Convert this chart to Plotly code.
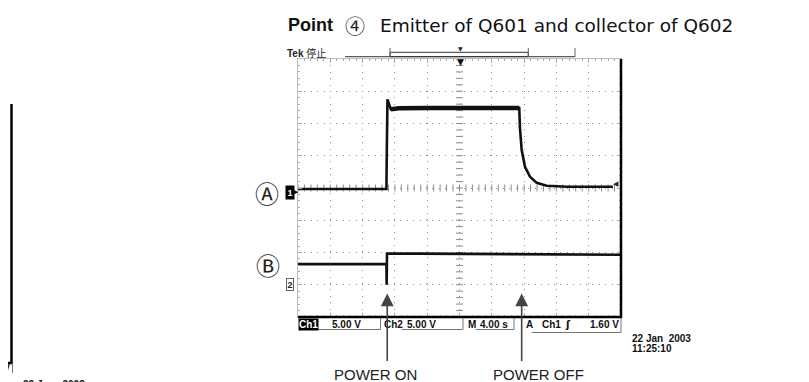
import numpy as np
import plotly.graph_objects as go

# Oscilloscope capture: 4.00 s/div, 10 divisions -> 0..40 s
# Channel values in volts (5.00 V/div on both channels)
CH1_T = [0, 10.95, 11.0, 11.08, 11.5, 12.5, 16, 20, 24, 27.4,
         27.49, 27.7, 28.11, 28.73, 29.56, 30.8, 33.3, 39.0]
CH1_V = [-0.15, -0.15, 6.0, 13.75, 12.2, 12.35, 12.4, 12.45, 12.4, 12.4,
         9.25, 5.9, 3.3, 1.75, 0.8, 0.35, 0.2, 0.2]
PLATEAU = slice(4, 10)  # noisy "on" section is drawn thicker

CH2_T = [0, 10.95, 10.98, 11.02, 15, 20, 30, 40]
CH2_V = [3.2, 3.2, 0.0, 4.85, 4.82, 4.78, 4.7, 4.65]

VOLTS_PER_DIV = 5.0
CH1_GROUND_DIV = 4.0   # ground marker "1"
CH2_GROUND_DIV = 1.0   # ground marker "2"

EVENTS = ["POWER ON", "POWER OFF"]
EVENT_T = [11.05, 27.7]

STATUS = ["5.00 V", "5.00 V", "4.00 s", "1.60 V"]

GRID_COLOR = "#8c8c8c"
TRACE_COLOR = "#111111"

# page offset of the plot div (browser body margin)
OFF = 8
PAGE_W, PAGE_H = 809, 382
# plot area in page pixels
L, T, W, H = 298, 59, 323, 258


def px(x):
    return (x - L) / W


def py(y):
    return (T + H - y) / H


ch1_div = [v / VOLTS_PER_DIV + CH1_GROUND_DIV for v in CH1_V]
ch2_div = [v / VOLTS_PER_DIV + CH2_GROUND_DIV for v in CH2_V]

fig = go.Figure()

# centre crosshair minor ticks
fig.add_trace(go.Scatter(
    x=np.arange(0, 40.01, 0.8), y=[4] * 51, mode="markers",
    marker=dict(symbol="line-ns", size=5, line=dict(width=1, color=GRID_COLOR)),
    hoverinfo="skip", cliponaxis=False,
))
fig.add_trace(go.Scatter(
    x=[20] * 41, y=np.arange(0, 8.01, 0.2), mode="markers",
    marker=dict(symbol="line-ew", size=5, line=dict(width=1, color=GRID_COLOR)),
    hoverinfo="skip", cliponaxis=False,
))

fig.add_trace(go.Scatter(
    x=CH1_T, y=ch1_div, mode="lines",
    line=dict(color=TRACE_COLOR, width=2.6), hoverinfo="skip", name="Ch1",
))
fig.add_trace(go.Scatter(
    x=CH1_T[PLATEAU], y=ch1_div[PLATEAU], mode="lines",
    line=dict(color=TRACE_COLOR, width=4.5), hoverinfo="skip", name="Ch1 on",
))
fig.add_trace(go.Scatter(
    x=CH2_T, y=ch2_div, mode="lines",
    line=dict(color=TRACE_COLOR, width=2.6), hoverinfo="skip", name="Ch2",
))

axis_common = dict(
    showgrid=True, gridcolor=GRID_COLOR, griddash="1px,5.4px", gridwidth=1,
    zeroline=False, showticklabels=False,
    ticks="inside", ticklen=4, tickcolor="#aaaaaa",
    showline=True, linecolor="#bbbbbb", linewidth=1, mirror="ticks",
    fixedrange=True,
)
fig.update_xaxes(range=[0, 40], dtick=4, tick0=0,
                 minor=dict(dtick=0.8, ticks="inside", ticklen=2, tickcolor="#aaaaaa", showgrid=False),
                 **axis_common)
fig.update_yaxes(range=[0, 8], dtick=1, tick0=0,
                 minor=dict(dtick=0.2, ticks="inside", ticklen=2, tickcolor="#aaaaaa", showgrid=False),
                 **axis_common)


def pline(x0, y0, x1, y1, color="#777", width=1):
    return dict(type="line", xref="paper", yref="paper",
                x0=px(x0), y0=py(y0), x1=px(x1), y1=py(y1),
                line=dict(color=color, width=width))


shapes = [
    # heavy right / bottom frame
    pline(621, 318, 621, 59, "black", 2.5),
    pline(298, 317, 622, 317, "black", 2.5),
    # record-length bar on top
    pline(345, 56.7, 575, 56.7, "#333"),
    dict(type="rect", xref="paper", yref="paper", x0=px(390), x1=px(528.3), y0=py(56.7), y1=py(52.3),
         line=dict(color="#333", width=1)),
    pline(390, 57, 390, 48, "#666"),
    pline(528.3, 57, 528.3, 48, "#666"),
    pline(575, 57, 575, 48, "#666"),
    # status-bar field borders
    pline(316.7, 329.5, 380.5, 329.5),
    pline(380.5, 318, 380.5, 329.5),
    pline(401.5, 329.5, 463, 329.5),
    pline(463, 318, 463, 329.5),
    pline(475.5, 329.5, 514, 329.5),
    pline(514, 318, 514, 329.5),
    pline(531.5, 332.5, 621, 332.5),
    pline(621, 318, 621, 332.5),
    # neighbouring capture cut off at the left page edge
    pline(11.5, 363, 11.5, 104, "black", 2.5),
    pline(0, 363, 12.5, 363, "black", 2.5),
    pline(12.5, 364, 12.5, 373),
]


def label(text, x, y, size=10, family="Liberation Sans", color="#111", anchor="left", **kw):
    d = dict(text=text, x=px(x), y=py(y), xref="paper", yref="paper",
             xanchor=anchor, yanchor="middle", showarrow=False,
             font=dict(family=family, size=size, color=color))
    d.update(kw)
    return d


CJK = "Liberation Sans, Noto Sans CJK JP"
CIRC = "Noto Sans CJK JP"
annotations = [
    label("<b>Point</b>", 285.5, 25, size=18, family="Liberation Sans"),
    label("④", 354.5, 25, size=20, family=CIRC, anchor="center", color="#222"),
    label("Emitter of Q601 and collector of Q602", 378, 25, size=18.5, family="DejaVu Sans"),
    label("<b>Tek</b> 停止", 285, 53, size=10, family=CJK, color="#222"),
    label("▼", 460, 48.5, size=6, anchor="center", family="DejaVu Sans", color="#222"),
    label("▼", 460, 61.5, size=9, anchor="center", family="DejaVu Sans"),
    label("◀", 616, 184, size=7, anchor="center", family="DejaVu Sans", color="#222"),
    # channel labels
    label("Ⓐ", 266.5, 192, size=24, anchor="center", family=CIRC, color="#222"),
    label("Ⓑ", 267.5, 264, size=24, anchor="center", family=CIRC, color="#222"),
    # ground markers
    label("<b>1</b>", 289.5, 192, size=9, anchor="center", color="white", bgcolor="black", borderpad=1.5),
    label("▶", 296, 191.5, size=7, anchor="center", family="DejaVu Sans"),
    label("<b>2</b>", 289.5, 284, size=9, anchor="center", color="#222",
          bordercolor="#666", borderwidth=1, borderpad=0.5),
    # status bar
    label("<b>Ch1</b>", 298, 324.5, color="white", bgcolor="black", borderpad=0),
    label("<b>" + STATUS[0] + "</b>", 330, 324.5),
    label("<b>Ch2</b>", 382, 324.5),
    label("<b>" + STATUS[1] + "</b>", 405, 324.5),
    label("<b>M</b>", 466, 324.5),
    label("<b>" + STATUS[2] + "</b>", 478, 324.5),
    label("<b>A</b>", 524, 324.5),
    label("<b>Ch1</b>", 540, 324.5),
    label("<b>ʃ</b>", 563, 324.5, family="DejaVu Sans"),
    label("<b>" + STATUS[3] + "</b>", 588, 324.5),
    label("<b>22 Jan  2003</b>", 630, 338),
    label("<b>11:25:10</b>", 630, 348),
    # remnants of neighbouring capture
    label("<b>0 V</b>", 12, 368.5, anchor="right"),
    label("<b>22 Jan   2003</b>", 21, 384),
]

# event arrows and labels
for name, t in zip(EVENTS, EVENT_T):
    annotations.append(dict(
        text="", x=t, xref="x", y=(317 - 293.5) / 32.25, yref="y",
        showarrow=True, ax=0, ay=69, axref="pixel", ayref="pixel",
        arrowhead=2, arrowsize=1.6, arrowwidth=1.6, arrowcolor="#444",
    ))
    annotations.append(dict(
        text=name, x=t, xref="x", y=py(374), yref="paper", showarrow=False,
        xshift=-12 if name == "POWER ON" else 17, xanchor="center", yanchor="middle",
        font=dict(family="Liberation Sans", size=15, color="#222"),
    ))

# the page body adds an 8 px margin, so the figure is shrunk and shifted to keep page coordinates
fig.update_layout(
    width=PAGE_W - OFF, height=PAGE_H - OFF,
    margin=dict(l=L - OFF, r=PAGE_W - L - W, t=T - OFF, b=PAGE_H - T - H),
    paper_bgcolor="white", plot_bgcolor="white",
    showlegend=False, hovermode=False,
    shapes=shapes, annotations=annotations,
)

fig.write_html("out.html")
